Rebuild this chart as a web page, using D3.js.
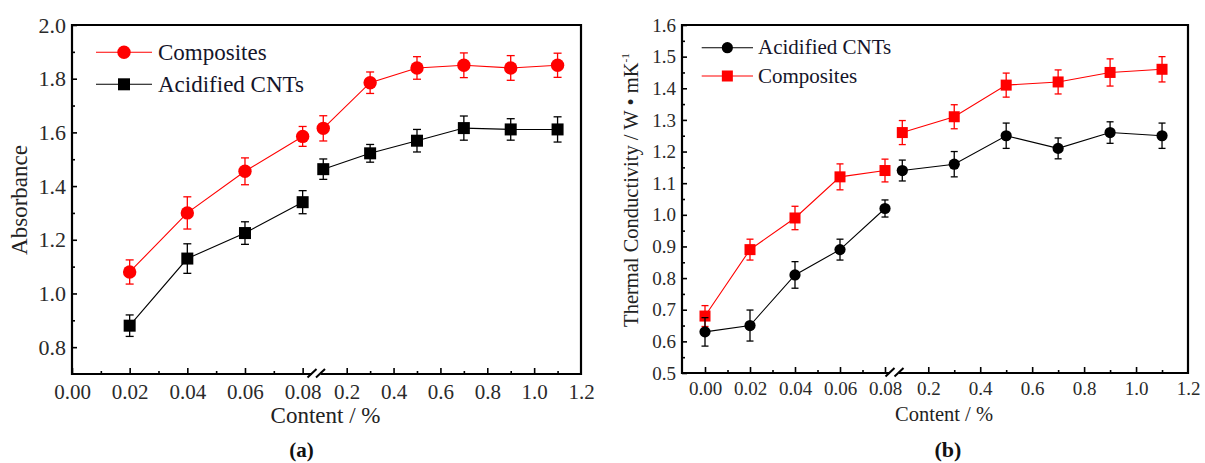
<!DOCTYPE html>
<html><head><meta charset="utf-8">
<script src="https://cdn.jsdelivr.net/npm/d3@7"></script>
<style>
body{margin:0;background:#fff;}
svg, svg text{font-family:"Liberation Serif","Times New Roman",serif !important;}
</style></head>
<body><svg id="c" width="1205" height="463"></svg>
<script>
// ---------- data ----------
const contentA = [0.02,0.04,0.06,0.08,0.1,0.3,0.5,0.7,0.9,1.1];
const compositesA = [1.08,1.30,1.455,1.585,1.615,1.785,1.84,1.85,1.84,1.85];
const compositesAErr = [0.045,0.06,0.05,0.037,0.047,0.04,0.042,0.046,0.046,0.045];
const cntsA = [0.88,1.13,1.225,1.34,1.463,1.522,1.569,1.616,1.611,1.611];
const cntsAErr = [0.04,0.055,0.042,0.043,0.038,0.033,0.042,0.045,0.04,0.047];

const contentB = [0,0.02,0.04,0.06,0.08,0.1,0.3,0.5,0.7,0.9,1.1];
const cntsB = [0.63,0.65,0.81,0.89,1.02,1.14,1.16,1.25,1.21,1.26,1.25];
const cntsBErr = [0.045,0.049,0.042,0.033,0.027,0.033,0.04,0.04,0.033,0.034,0.04];
const compositesB = [0.68,0.89,0.99,1.12,1.14,1.26,1.31,1.41,1.42,1.45,1.46];
const compositesBErr = [0.033,0.033,0.037,0.041,0.036,0.038,0.038,0.038,0.038,0.043,0.04];

const xTicksLeft = [0,0.02,0.04,0.06,0.08];
const xMinorLeft = [0.01,0.03,0.05,0.07];
const xTicksRight = [0.2,0.4,0.6,0.8,1.0,1.2];
const xMinorRight = [0.3,0.5,0.7,0.9,1.1];
const yTicksA = [0.8,1.0,1.2,1.4,1.6,1.8,2.0];
const yMinorA = [0.9,1.1,1.3,1.5,1.7,1.9];
const yTicksB = [0.5,0.6,0.7,0.8,0.9,1.0,1.1,1.2,1.3,1.4,1.5,1.6];
const yMinorB = [0.55,0.65,0.75,0.85,0.95,1.05,1.15,1.25,1.35,1.45,1.55];

const FONT = "Liberation Serif, Times New Roman, serif";
const svg = d3.select("#c");
const RED = "#ff0000", BLK = "#000000";

function panel(cfg){
  const g = svg.append("g").attr("font-family",FONT);
  const {L,R,T,B,brk} = cfg;
  const xL = d3.scaleLinear().domain(cfg.leftDom).range([L,brk]);
  const xR = d3.scaleLinear().domain(cfg.rightDom).range([brk,R]);
  const y = d3.scaleLinear().domain(cfg.yDom).range([B,T]);
  const xf = v => v <= 0.0801 ? xL(v) : xR(v);

  const axY = g.append("g").attr("transform",`translate(${L},0)`)
    .call(d3.axisLeft(y).tickValues(cfg.yTicks).tickFormat(d3.format(".1f")).tickSizeInner(-5).tickPadding(cfg.yPad));
  const axYm = g.append("g").attr("transform",`translate(${L},0)`)
    .call(d3.axisLeft(y).tickValues(cfg.yMinor).tickFormat("").tickSizeInner(-3));
  const axXL = g.append("g").attr("transform",`translate(0,${B})`)
    .call(d3.axisBottom(xL).tickValues(xTicksLeft).tickFormat(d3.format(".2f")).tickSizeInner(-6).tickPadding(cfg.xPad));
  const axXLm = g.append("g").attr("transform",`translate(0,${B})`)
    .call(d3.axisBottom(xL).tickValues(xMinorLeft).tickFormat("").tickSizeInner(-3));
  const axXR = g.append("g").attr("transform",`translate(0,${B})`)
    .call(d3.axisBottom(xR).tickValues(xTicksRight).tickFormat(d3.format(".1f")).tickSizeInner(-6).tickPadding(cfg.xPad));
  const axXRm = g.append("g").attr("transform",`translate(0,${B})`)
    .call(d3.axisBottom(xR).tickValues(xMinorRight).tickFormat("").tickSizeInner(-3));
  [axY,axYm,axXL,axXLm,axXR,axXRm].forEach(a=>{
    a.attr("font-family",FONT);
    a.select(".domain").remove();
    a.selectAll(".tick line").attr("stroke","#000").attr("stroke-width",1.6);
  });
  [axXL,axXR].forEach(a=>a.selectAll("text").attr("font-size",cfg.xTickFs).attr("fill","#2a2a2a").attr("font-family",FONT));
  axY.selectAll("text").attr("font-size",cfg.yTickFs).attr("fill","#2a2a2a").attr("font-family",FONT);
  axXR.selectAll(".tick").filter(d=>Math.abs(d-1.2)<1e-6).select("line").remove();

  const fr = g.append("g").attr("stroke","#000").attr("stroke-width",2.2).attr("fill","none");
  fr.append("path").attr("d",`M${cfg.s1},${B} L${L},${B} L${L},${T} L${R},${T} L${R},${B} L${cfg.s2},${B}`);
  [cfg.s1,cfg.s2].forEach(s=>{
    fr.append("line").attr("x1",s-4.5).attr("y1",B+3.5).attr("x2",s+4.5).attr("y2",B-5).attr("stroke-width",2);
  });

  function series(xs, ys, es, color, shape, size){
    const pts = xs.map((x,i)=>({x,y:ys[i],e:es[i]}));
    const line = d3.line().x(d=>xf(d.x)).y(d=>y(d.y));
    const sg = g.append("g");
    [pts.filter(d=>d.x<=0.0801), pts.filter(d=>d.x>0.0801)].forEach(seg=>{
      sg.append("path").attr("d",line(seg)).attr("fill","none").attr("stroke",color).attr("stroke-width",1.1);
    });
    const cw = cfg.cap;
    pts.forEach(d=>{
      const cx = xf(d.x), y1 = y(d.y+d.e), y2 = y(d.y-d.e);
      sg.append("line").attr("x1",cx).attr("x2",cx).attr("y1",y1).attr("y2",y2).attr("stroke",color).attr("stroke-width",1.3);
      [y1,y2].forEach(yy=>sg.append("line").attr("x1",cx-cw/2).attr("x2",cx+cw/2).attr("y1",yy).attr("y2",yy).attr("stroke",color).attr("stroke-width",1.3));
    });
    pts.forEach(d=>marker(sg, xf(d.x), y(d.y), color, shape, size));
  }
  function marker(sel, cx, cy, color, shape, size){
    if(shape==="circle") sel.append("circle").attr("cx",cx).attr("cy",cy).attr("r",size).attr("fill",color);
    else sel.append("rect").attr("x",cx-size/2).attr("y",cy-size/2).attr("width",size).attr("height",size).attr("fill",color);
  }
  cfg.series.forEach(s=>series(s.x,s.y,s.e,s.color,s.shape,s.size));

  cfg.legend.forEach((s,i)=>{
    const ly = cfg.legY[i];
    g.append("line").attr("x1",cfg.legX[0]).attr("x2",cfg.legX[1]).attr("y1",ly).attr("y2",ly).attr("stroke",s.color).attr("stroke-width",1.1);
    marker(g,(cfg.legX[0]+cfg.legX[1])/2,ly,s.color,s.shape,s.size);
    g.append("text").attr("x",cfg.legX[2]).attr("y",ly+cfg.legDy).attr("font-size",cfg.legFs).attr("fill","#15152a").text(s.name);
  });

  g.append("text").attr("x",cfg.xTitle[0]).attr("y",cfg.xTitle[1]).attr("text-anchor","middle")
    .attr("font-size",cfg.titleFs).attr("fill","#222").text("Content / %");
  const yt = g.append("text").attr("transform",`translate(${cfg.yTitle[0]},${cfg.yTitle[1]}) rotate(-90)`)
    .attr("text-anchor","middle").attr("font-size",cfg.titleFs).attr("fill","#222");
  yt.append("tspan").text(cfg.yTitleText);
  if(cfg.yTitleSup){
    yt.append("tspan").attr("font-size",cfg.titleFs*0.55).attr("dy",-9).text(cfg.yTitleSup);
  }
  g.append("text").attr("x",cfg.panelLab[0]).attr("y",cfg.panelLab[1]).attr("text-anchor","middle")
    .attr("font-size",cfg.labFs).attr("font-weight","bold").attr("fill","#111").text(cfg.panelLab[2]);
}

panel({
  L:72,R:581,T:25,B:374,brk:316,s1:312,s2:320.5,
  leftDom:[0,(316-72)/2883], rightDom:[0.2-(346.7-316)/234.3,1.2],
  yDom:[0.7,2.0], yTicks:yTicksA, yMinor:yMinorA,
  yPad:6, xPad:10, xTickFs:21, yTickFs:22, cap:8,
  series:[
    {x:contentA,y:cntsA,e:cntsAErr,color:BLK,shape:"square",size:12},
    {x:contentA,y:compositesA,e:compositesAErr,color:RED,shape:"circle",size:6.7}
  ],
  legend:[
    {name:"Composites",color:RED,shape:"circle",size:6.7},
    {name:"Acidified CNTs",color:BLK,shape:"square",size:12}
  ],
  legX:[96,152,158], legY:[52.3,84.3], legDy:8, legFs:23,
  titleFs:23, xTitle:[325.5,423], yTitle:[27,200], yTitleText:"Absorbance",
  labFs:21, panelLab:[301.5,457,"(a)"]
});

panel({
  L:682,R:1188,T:25,B:373,brk:894.5,s1:890,s2:899,
  leftDom:[-(705-682)/2250,(894.5-705)/2250], rightDom:[0.2-(928.3-894.5)/260,1.2],
  yDom:[0.5,1.6], yTicks:yTicksB, yMinor:yMinorB,
  yPad:6, xPad:9, xTickFs:19, yTickFs:19, cap:7,
  series:[
    {x:contentB,y:compositesB,e:compositesBErr,color:RED,shape:"square",size:11},
    {x:contentB,y:cntsB,e:cntsBErr,color:BLK,shape:"circle",size:5.6}
  ],
  legend:[
    {name:"Acidified CNTs",color:BLK,shape:"circle",size:5.6},
    {name:"Composites",color:RED,shape:"square",size:11}
  ],
  legX:[701.7,753,758], legY:[47.7,76], legDy:6.5, legFs:21,
  titleFs:20.5, xTitle:[944,421], yTitle:[638,190], yTitleText:"Thermal Conductivity / W • mK", yTitleSup:"-1",
  labFs:22, panelLab:[948,457,"(b)"]
});
</script></body></html>
